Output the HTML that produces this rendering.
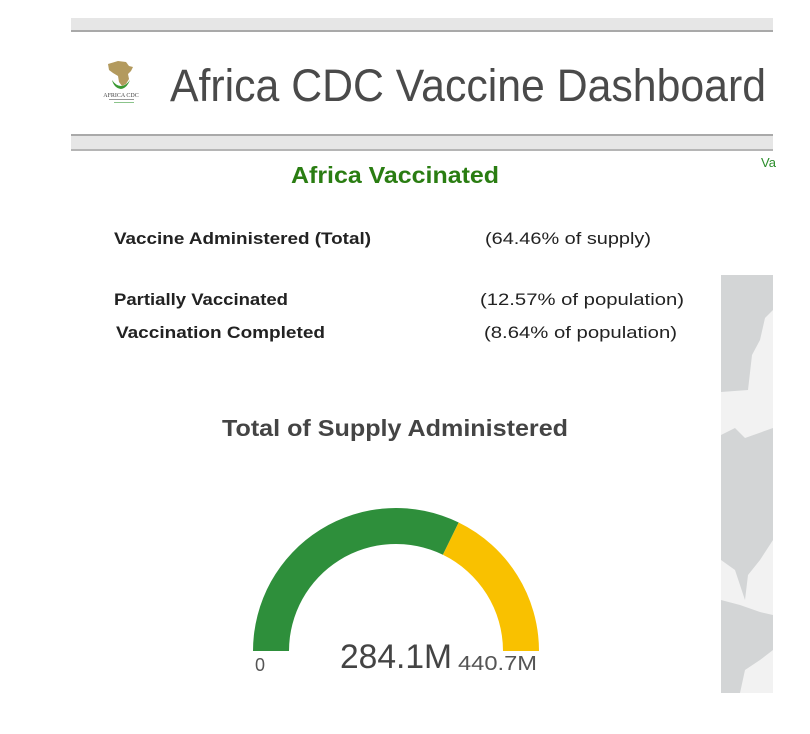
<!DOCTYPE html>
<html><head><meta charset="utf-8"><style>
html,body{margin:0;padding:0;background:#fff;width:810px;height:734px;overflow:hidden}
svg{display:block}
</style></head><body>
<svg width="810" height="734" viewBox="0 0 810 734" xmlns="http://www.w3.org/2000/svg" font-family="Liberation Sans, sans-serif">
<rect x="0" y="0" width="810" height="734" fill="#fff"/>
<rect x="71" y="18" width="702" height="13" fill="#e6e6e6"/>
<rect x="71" y="30" width="702" height="2" fill="#a9a9a9"/>
<rect x="71" y="134" width="702" height="2" fill="#a9a9a9"/>
<rect x="71" y="136" width="702" height="13" fill="#e6e6e6"/>
<rect x="71" y="149" width="702" height="2" fill="#b5b5b5"/>
<path d="M108 64 L118 61 L126 62 L129 66 L133 67 L131 71 L128 74 L129 79 L126 84 L122 86 L119 82 L118 76 L113 73 L109 70 Z" fill="#b39a5e"/>
<path d="M112 80 Q114 88 121 89 Q127 88 130 80 Q126 86 121 86 Q116 86 112 80 Z" fill="#3a9a32"/>
<text x="121" y="97" font-size="6" font-family="Liberation Serif, serif" text-anchor="middle" fill="#444">AFRICA CDC</text>
<rect x="109" y="99" width="25" height="1" fill="#999"/>
<rect x="114" y="102" width="20" height="1" fill="#8bc48b"/>
<text x="170" y="101" font-size="45" fill="#4a4a4a" textLength="596" lengthAdjust="spacingAndGlyphs">Africa CDC Vaccine Dashboard</text>
<text x="291" y="183" font-size="23" font-weight="bold" fill="#2a7d12" textLength="208" lengthAdjust="spacingAndGlyphs">Africa Vaccinated</text>
<text x="761" y="167" font-size="13" fill="#2a8d2a">Va</text>
<g font-size="17" fill="#222">
<text x="114" y="244" font-weight="bold" textLength="257" lengthAdjust="spacingAndGlyphs">Vaccine Administered (Total)</text>
<text x="485" y="244" textLength="166" lengthAdjust="spacingAndGlyphs">(64.46% of supply)</text>
<text x="114" y="305" font-weight="bold" textLength="174" lengthAdjust="spacingAndGlyphs">Partially Vaccinated</text>
<text x="480" y="305" textLength="204" lengthAdjust="spacingAndGlyphs">(12.57% of population)</text>
<text x="116" y="338" font-weight="bold" textLength="209" lengthAdjust="spacingAndGlyphs">Vaccination Completed</text>
<text x="484" y="338" textLength="193" lengthAdjust="spacingAndGlyphs">(8.64% of population)</text>
</g>
<text x="222" y="436" font-size="23" font-weight="bold" fill="#444" textLength="346" lengthAdjust="spacingAndGlyphs">Total of Supply Administered</text>
<rect x="721" y="275" width="52" height="418" fill="#f2f2f2"/>
<path d="M721 275 L773 275 L773 310 L765 318 L760 340 L752 355 L748 390 L721 392 Z" fill="#d3d5d6"/>
<path d="M721 435 L735 428 L745 438 L773 428 L773 540 L760 560 L748 575 L745 600 L735 570 L721 560 Z" fill="#d3d5d6"/>
<path d="M721 600 L740 605 L760 612 L773 615 L773 650 L760 660 L745 670 L740 693 L721 693 Z" fill="#d3d5d6"/>
<path d="M253 651 A143 143 0 0 1 458.7 522.5 L442.9 554.8 A107 107 0 0 0 289 651 Z" fill="#2e8f3b"/>
<path d="M458.7 522.5 A143 143 0 0 1 539 651 L503 651 A107 107 0 0 0 442.9 554.8 Z" fill="#f9c100"/>
<text x="255" y="671" font-size="18" fill="#555">0</text>
<text x="340" y="668" font-size="34" fill="#444" textLength="112" lengthAdjust="spacingAndGlyphs">284.1M</text>
<text x="458" y="670" font-size="20" fill="#555" textLength="79" lengthAdjust="spacingAndGlyphs">440.7M</text>
</svg>
</body></html>
